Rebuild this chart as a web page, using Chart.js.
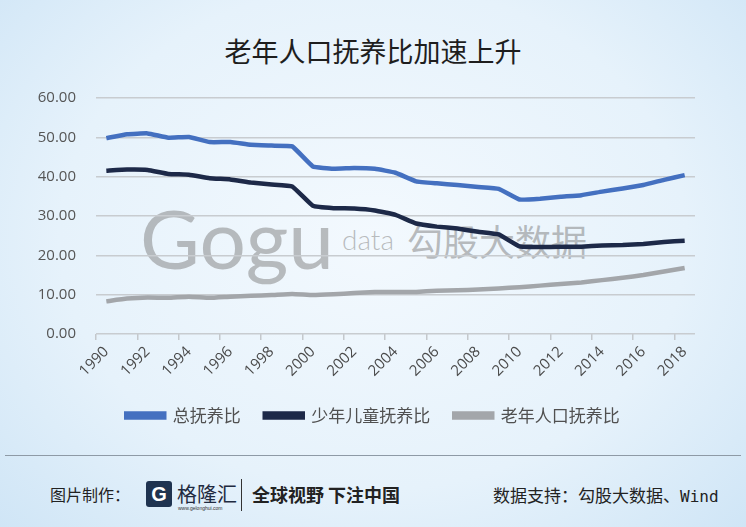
<!DOCTYPE html>
<html>
<head>
<meta charset="utf-8">
<script src="https://cdn.jsdelivr.net/npm/chart.js@4"></script>
<style>
  html, body { margin: 0; padding: 0; }
  body {
    width: 746px; height: 527px; overflow: hidden; position: relative;
    background: radial-gradient(ellipse 70% 80% at 50% 45%, #f3f9fe 0%, #e6f2fb 60%, #cfe5f6 100%);
    font-family: "Noto Sans CJK SC", sans-serif;
  }
  #title { position: absolute; left: 0; width: 746px; top: 31px; text-align: center;
    font-size: 27px; color: #1e1e1e; }
  #wm { position: absolute; left: 0; top: 0; width: 746px; height: 527px; color: rgba(125,125,125,0.5); }
  #wm .gogu { position: absolute; left: 140px; top: 188px; font-family: "Lato", sans-serif; font-size: 82px; }
  #wm .data { position: absolute; left: 342px; top: 222px; font-family: "Lato", sans-serif; font-size: 28px; font-weight: 300; }
  #wm .cn { position: absolute; left: 407px; top: 214px; font-size: 36px; }
  #wrap { position: absolute; left: 0; top: 0; width: 746px; height: 440px; }
  #rule { position: absolute; left: 5px; right: 5px; top: 455px; border-top: 1.5px solid #8e9aa6; }
  .foot { position: absolute; top: 482px; font-size: 17px; color: #222; white-space: nowrap; }
  .logo { position: absolute; left: 146px; top: 481px; width: 26px; height: 26px; background: #1f3350; border-radius: 3px;
    color: #fff; font: bold 20px "Liberation Sans", sans-serif; text-align: center; line-height: 26px; }
  .url { position: absolute; left: 178px; top: 505px; font: 5px "Liberation Sans", sans-serif; color: #333; }
  .vbar { position: absolute; left: 241px; top: 479px; height: 32px; border-left: 1.5px solid #333; }
  .mono { font-family: "DejaVu Sans Mono", monospace; font-size: 16px; }
</style>
</head>
<body>
<div id="wm"><span class="gogu">Gogu</span><span class="data">data</span><span class="cn">勾股大数据</span></div>
<div id="title">老年人口抚养比加速上升</div>
<div id="wrap"><canvas id="chart" width="746" height="440"></canvas></div>
<div id="rule"></div>
<div class="foot" style="left:50px; font-size:16px;">图片制作：</div>
<div class="logo">G</div>
<div class="foot" style="left:177px; top:479px; font-size:20px; color:#1f2a40;">格隆汇</div>
<div class="url">www.gelonghui.com</div>
<div class="vbar"></div>
<div class="foot" style="left:252px; font-weight:bold; font-size:18px; top:481px;">全球视野 下注中国</div>
<div class="foot" style="left:493px;">数据支持：勾股大数据、<span class="mono">Wind</span></div>
<script>
const years = ['1990','1991','1992','1993','1994','1995','1996','1997','1998','1999',
  '2000','2001','2002','2003','2004','2005','2006','2007','2008','2009',
  '2010','2011','2012','2013','2014','2015','2016','2017','2018'];
const totalRatio = [49.8, 50.8, 51.0, 49.9, 50.1, 48.8, 48.8, 48.1, 47.9, 47.7,
  42.6, 42.0, 42.2, 42.0, 41.0, 38.8, 38.3, 37.9, 37.4, 36.9,
  34.2, 34.4, 34.9, 35.3, 36.2, 37.0, 37.9, 39.2, 40.4];
const childRatio = [41.5, 41.8, 41.7, 40.7, 40.5, 39.6, 39.3, 38.5, 38.0, 37.5,
  32.6, 32.0, 31.9, 31.4, 30.3, 28.1, 27.3, 26.8, 26.0, 25.3,
  22.3, 22.1, 22.2, 22.2, 22.5, 22.6, 22.9, 23.4, 23.7];
const elderRatio = [8.3, 9.0, 9.3, 9.2, 9.5, 9.2, 9.5, 9.7, 9.9, 10.2,
  9.9, 10.1, 10.4, 10.7, 10.7, 10.7, 11.0, 11.1, 11.3, 11.6,
  11.9, 12.3, 12.7, 13.1, 13.7, 14.3, 15.0, 15.9, 16.8];
const seriesNames = ['总抚养比', '少年儿童抚养比', '老年人口抚养比'];

const lineStyle = (label, data, color) => ({
  label, data,
  borderColor: color, backgroundColor: color,
  borderWidth: 4.5, pointRadius: 0, tension: 0.1, fill: false
});

new Chart(document.getElementById('chart'), {
  type: 'line',
  data: {
    labels: years,
    datasets: [
      lineStyle(seriesNames[0], totalRatio, '#4470c0'),
      lineStyle(seriesNames[1], childRatio, '#1d2948'),
      lineStyle(seriesNames[2], elderRatio, '#a3a6aa')
    ]
  },
  options: {
    responsive: false,
    animation: false,
    layout: { padding: { top: 98, right: 0, left: 0, bottom: 6 } },
    plugins: {
      tooltip: { enabled: false },
      legend: {
        position: 'bottom',
        labels: {
          boxWidth: 38, boxHeight: 4, padding: 24,
          color: '#505050', font: { family: '"Noto Sans CJK SC", sans-serif', size: 17 }
        }
      }
    },
    scales: {
      x: {
        offset: true,
        border: { display: false },
        grid: {
          offset: true, drawOnChartArea: false, drawTicks: true, tickLength: 6,
          color: ctx => ctx.index % 2 === 0 ? '#c4c8cc' : 'rgba(0,0,0,0)', lineWidth: 1.5
        },
        ticks: {
          autoSkip: false, maxRotation: 45, minRotation: 45,
          color: '#4a4a4a', font: { family: '"Open Sans", sans-serif', size: 15 },
          callback: (v, i) => i % 2 === 0 ? years[i] : ''
        }
      },
      y: {
        min: 0, max: 60,
        border: { display: false },
        afterFit: s => { s.width = 96; },
        grid: { color: '#c8ccd0', lineWidth: 1.5, drawTicks: false },
        ticks: {
          stepSize: 10, padding: 20,
          color: '#555', font: { family: '"Open Sans", sans-serif', size: 15 },
          callback: v => v.toFixed(2)
        }
      },
      // empty right-hand spacer so the legend stays centred on the whole canvas
      yr: {
        position: 'right', min: 0, max: 60,
        afterFit: s => { s.width = 51; },
        border: { display: false },
        grid: { display: false },
        ticks: { display: false }
      }
    }
  }
});
</script>
</body>
</html>
